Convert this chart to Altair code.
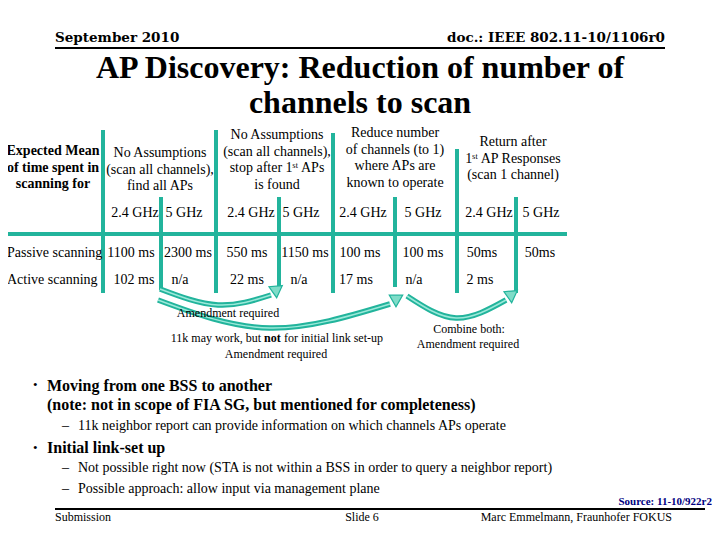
import altair as alt
import pandas as pd

# ---------------- content ----------------
HEADER_DATE = "September 2010"
HEADER_DOC = "doc.: IEEE 802.11-10/1106r0"
TITLE_LINES = ["AP Discovery: Reduction of number of", "channels to scan"]
ROW_HEAD = ["Expected Mean", "of time spent in", "scanning for"]
COL_HEADS = [
    ["No Assumptions", "(scan all channels),", "find all APs"],
    ["No Assumptions", "(scan all channels),", "stop after 1ˢᵗ APs", "is found"],
    ["Reduce number", "of channels (to 1)", "where APs are", "known to operate"],
    ["Return after", "1ˢᵗ AP Responses", "(scan 1 channel)"],
]
BANDS = ["2.4 GHz", "5 GHz", "2.4 GHz", "5 GHz", "2.4 GHz", "5 GHz", "2.4 GHz", "5 GHz"]
ROW_LABELS = ["Passive scanning", "Active scanning"]
PASSIVE = ["1100 ms", "2300 ms", "550 ms", "1150 ms", "100 ms", "100 ms", "50ms", "50ms"]
ACTIVE = ["102 ms", "n/a", "22 ms", "n/a", "17 ms", "n/a", "2 ms"]
NOTE_A = "Amendment required"
NOTE_B = ["11k may work, but", "not", "for initial link set-up", "Amendment required"]
NOTE_C = ["Combine both:", "Amendment required"]
BULLET_1 = ["Moving from one BSS to another",
            "(note: not in scope of FIA SG, but mentioned for completeness)"]
SUB_1 = ["11k neighbor report can provide information on which channels APs operate"]
BULLET_2 = ["Initial link-set up"]
SUB_2 = ["Not possible right now (STA is not within a BSS in order to query a neighbor report)",
         "Possible approach: allow input via management plane"]
FOOT_LEFT = "Submission"
FOOT_MID = "Slide 6"
FOOT_RIGHT = "Marc Emmelmann, Fraunhofer FOKUS"
SOURCE = "Source: 11-10/922r2"

# ---------------- layout (page pixels) ----------------
COL_HEAD_X = [160, 277, 395, 513]
COL_HEAD_Y0 = [153, 135, 133, 142]
LINE_STEP = 16.6
BAND_X = [135, 184, 251, 301, 363, 423, 489, 541]
PASSIVE_X = [131, 188, 247, 305, 360, 423, 482, 540]
ACTIVE_X = [134, 180, 247, 299, 356, 414, 480]
BAND_Y, PASSIVE_Y, ACTIVE_Y = 213, 253, 280
VLINE_X = [103, 161, 216, 279, 333, 395, 457, 516]
VLINE_TOP = [130, 197, 130, 197, 133, 197, 149, 197]
VLINE_BOT = [293, 290, 293, 290, 293, 287, 293, 293]
HLINE = (8, 567, 234)
ARROWS = {
    "a1": [(160, 289), (218, 305), (271, 295)],
    "a2": [(158, 300), (270, 328), (390, 304)],
    "a3": [(407, 296), (456, 318), (506, 300)],
}
HEADS = [(276, 290, 55), (396, 299, 60), (511, 295, 55)]

TEAL = "#22b49c"
FONT = "'Liberation Serif', 'Times New Roman', 'DejaVu Serif', serif"
HEAD_FONT = "'DejaVu Serif', serif"

rows = []


def add(text, x, y, size, weight="normal", align="center", color="black", font=FONT):
    rows.append(dict(text=text, x=x, y=y, size=size, weight=weight, align=align,
                     color=color, font=font))


add(HEADER_DATE, 55, 38, 13.5, "bold", "left", font=HEAD_FONT)
add(HEADER_DOC, 665, 38, 13.5, "bold", "right", font=HEAD_FONT)
for i, t in enumerate(TITLE_LINES):
    add(t, 360, 68 + 35 * i, 32, "bold")
for i, t in enumerate(ROW_HEAD):
    add(t, 53, 151 + 16.5 * i, 14, "bold")
for c, lines in enumerate(COL_HEADS):
    for i, t in enumerate(lines):
        add(t, COL_HEAD_X[c], COL_HEAD_Y0[c] + LINE_STEP * i, 14)
for t, x in zip(BANDS, BAND_X):
    add(t, x, BAND_Y, 14)
add(ROW_LABELS[0], 7, PASSIVE_Y, 14, align="left")
add(ROW_LABELS[1], 7, ACTIVE_Y, 14, align="left")
for t, x in zip(PASSIVE, PASSIVE_X):
    add(t, x, PASSIVE_Y, 14)
for t, x in zip(ACTIVE, ACTIVE_X):
    add(t, x, ACTIVE_Y, 14)
add(NOTE_A, 228, 313, 12)
add(NOTE_B[0], 261, 338, 12, align="right")
add(NOTE_B[1], 264, 338, 12, "bold", "left")
add(NOTE_B[2], 284, 338, 12, align="left")
add(NOTE_B[3], 276, 354, 12)
add(NOTE_C[0], 469, 329, 12)
add(NOTE_C[1], 468, 344, 12)
# bullets
add("•", 33, 385, 13, align="left")
add(BULLET_1[0], 47, 386, 16, "bold", "left")
add(BULLET_1[1], 47, 405, 16, "bold", "left")
add("–", 62, 426, 14, align="left")
add(SUB_1[0], 78, 426, 14, align="left")
add("•", 33, 448, 13, align="left")
add(BULLET_2[0], 47, 448, 16, "bold", "left")
for i, t in enumerate(SUB_2):
    add("–", 62, 468 + 21 * i, 14, align="left")
    add(t, 78, 468 + 21 * i, 14, align="left")
add(SOURCE, 712, 502, 11, "bold", "right", "#000080")
add(FOOT_LEFT, 55, 517, 12, align="left")
add(FOOT_MID, 362, 517, 12)
add(FOOT_RIGHT, 672, 517, 12, align="right")

texts = pd.DataFrame(rows)

xs = alt.Scale(domain=[8, 712], nice=False, zero=False)
ys = alt.Scale(domain=[8, 532], nice=False, zero=False, reverse=True)


def X(f="x"):
    return alt.X(f, type="quantitative", scale=xs, axis=None)


def Y(f="y"):
    return alt.Y(f, type="quantitative", scale=ys, axis=None)


layers = []

# table lines
vl = pd.DataFrame({"x": VLINE_X, "y": VLINE_TOP, "y2": VLINE_BOT})
layers.append(alt.Chart(vl).mark_rule(color=TEAL, strokeWidth=4).encode(x=X(), y=Y(), y2="y2:Q"))
hl = pd.DataFrame({"x": [HLINE[0]], "x2": [HLINE[1]], "y": [HLINE[2]]})
layers.append(alt.Chart(hl).mark_rule(color=TEAL, strokeWidth=4).encode(x=X(), x2="x2:Q", y=Y()))

# header / footer black rules
bl = pd.DataFrame({"x": [55, 55], "x2": [665, 705], "y": [48, 509]})
layers.append(alt.Chart(bl).mark_rule(color="black", strokeWidth=2).encode(x=X(), x2="x2:Q", y=Y()))

# arrows
arr = pd.DataFrame([dict(id=k, o=i, x=p[0], y=p[1]) for k, pts in ARROWS.items() for i, p in enumerate(pts)])
layers.append(alt.Chart(arr).mark_line(interpolate="natural", color=TEAL, strokeWidth=5.5).encode(
    x=X(), y=Y(), detail="id:N", order="o:Q"))
layers.append(alt.Chart(arr).mark_line(interpolate="natural", color="#9be9d9", strokeWidth=1.5).encode(
    x=X(), y=Y(), detail="id:N", order="o:Q"))
hd = pd.DataFrame([dict(x=h[0], y=h[1], a=h[2]) for h in HEADS])
layers.append(alt.Chart(hd).mark_point(shape="triangle", filled=True, size=180, color="#7fdcc8",
                                       stroke=TEAL, strokeWidth=1.2, opacity=1).encode(
    x=X(), y=Y(), angle=alt.Angle("a:Q", scale=None)))

# texts
for (weight, align, color, font), sub in texts.groupby(["weight", "align", "color", "font"]):
    layers.append(alt.Chart(sub).mark_text(font=font, fontWeight=weight, align=align,
                                           baseline="middle", color=color).encode(
        x=X(), y=Y(), text="text:N", size=alt.Size("size:Q", scale=None)))

chart = alt.layer(*layers).properties(
    width=704, height=524, padding=0,
    autosize=alt.AutoSizeParams(type="none"), background="white",
).configure_view(stroke=None)

chart.save("out.html", embed_options={"renderer": "svg", "actions": False})
